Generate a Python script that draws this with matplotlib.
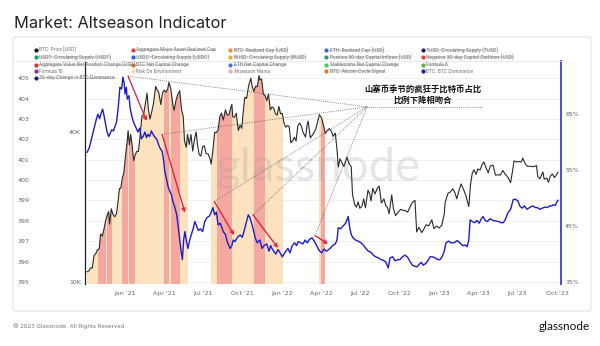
import matplotlib
matplotlib.use("Agg")
import matplotlib.pyplot as plt
import matplotlib.dates as mdates
from matplotlib.lines import Line2D
from matplotlib.patches import Polygon, FancyBboxPatch
import numpy as np
import pandas as pd

W, H = 600, 346

# ---- data ----
price_dates = [
    "2020-10-05", "2020-10-09", "2020-10-13", "2020-10-17", "2020-10-21", "2020-10-25", "2020-10-29",
    "2020-11-02", "2020-11-05", "2020-11-09", "2020-11-13", "2020-11-17", "2020-11-21", "2020-11-24",
    "2020-11-26", "2020-11-30", "2020-12-04", "2020-12-08", "2020-12-12", "2020-12-16", "2020-12-19",
    "2020-12-22", "2020-12-26", "2020-12-29", "2021-01-02", "2021-01-06", "2021-01-08", "2021-01-11",
    "2021-01-14", "2021-01-17", "2021-01-21", "2021-01-24", "2021-01-28", "2021-02-01", "2021-02-05",
    "2021-02-09", "2021-02-13", "2021-02-17", "2021-02-21", "2021-02-24", "2021-02-28", "2021-03-04",
    "2021-03-08", "2021-03-13", "2021-03-17", "2021-03-20", "2021-03-25", "2021-03-29", "2021-04-02",
    "2021-04-06", "2021-04-10", "2021-04-13", "2021-04-17", "2021-04-22", "2021-04-25", "2021-04-29",
    "2021-05-03", "2021-05-08", "2021-05-12", "2021-05-16", "2021-05-19", "2021-05-23", "2021-05-26",
    "2021-05-30", "2021-06-03", "2021-06-07", "2021-06-11", "2021-06-15", "2021-06-18", "2021-06-22",
    "2021-06-26", "2021-06-30", "2021-07-04", "2021-07-08", "2021-07-13", "2021-07-17", "2021-07-20",
    "2021-07-24", "2021-07-28", "2021-08-01", "2021-08-05", "2021-08-09", "2021-08-13", "2021-08-17",
    "2021-08-22", "2021-08-26", "2021-08-30", "2021-09-03", "2021-09-06", "2021-09-08", "2021-09-12",
    "2021-09-16", "2021-09-21", "2021-09-25", "2021-09-29", "2021-10-02", "2021-10-06", "2021-10-10",
    "2021-10-15", "2021-10-20", "2021-10-23", "2021-10-27", "2021-10-31", "2021-11-04", "2021-11-08",
    "2021-11-10", "2021-11-14", "2021-11-18", "2021-11-22", "2021-11-26", "2021-11-30", "2021-12-04",
    "2021-12-08", "2021-12-12", "2021-12-16", "2021-12-20", "2021-12-24", "2021-12-28", "2022-01-01",
    "2022-01-05", "2022-01-09", "2022-01-13", "2022-01-17", "2022-01-21", "2022-01-25", "2022-01-29",
    "2022-02-02", "2022-02-06", "2022-02-10", "2022-02-14", "2022-02-18", "2022-02-24", "2022-02-28",
    "2022-03-02", "2022-03-07", "2022-03-11", "2022-03-15", "2022-03-20", "2022-03-24", "2022-03-28",
    "2022-04-02", "2022-04-06", "2022-04-11", "2022-04-15", "2022-04-20", "2022-04-25", "2022-04-29",
    "2022-05-04", "2022-05-08", "2022-05-11", "2022-05-15", "2022-05-19", "2022-05-24", "2022-05-31",
    "2022-06-05", "2022-06-10", "2022-06-13", "2022-06-18", "2022-06-22", "2022-06-26", "2022-06-30",
    "2022-07-05", "2022-07-09", "2022-07-13", "2022-07-19", "2022-07-23", "2022-07-26", "2022-07-30",
    "2022-08-04", "2022-08-10", "2022-08-14", "2022-08-19", "2022-08-25", "2022-08-29", "2022-09-02",
    "2022-09-06", "2022-09-12", "2022-09-16", "2022-09-21", "2022-09-27", "2022-10-03", "2022-10-09",
    "2022-10-13", "2022-10-19", "2022-10-25", "2022-10-29", "2022-11-05", "2022-11-09", "2022-11-14",
    "2022-11-21", "2022-11-27", "2022-12-01", "2022-12-07", "2022-12-14", "2022-12-19", "2022-12-25",
    "2022-12-31", "2023-01-06", "2023-01-12", "2023-01-14", "2023-01-21", "2023-01-26", "2023-02-01",
    "2023-02-06", "2023-02-10", "2023-02-16", "2023-02-20", "2023-02-26", "2023-03-03", "2023-03-10",
    "2023-03-14", "2023-03-18", "2023-03-22", "2023-03-27", "2023-03-31", "2023-04-05", "2023-04-10",
    "2023-04-14", "2023-04-19", "2023-04-24", "2023-04-29", "2023-05-05", "2023-05-11", "2023-05-16",
    "2023-05-22", "2023-05-28", "2023-06-02", "2023-06-08", "2023-06-15", "2023-06-20", "2023-06-23",
    "2023-06-29", "2023-07-05", "2023-07-10", "2023-07-13", "2023-07-19", "2023-07-24", "2023-07-31",
    "2023-08-07", "2023-08-14", "2023-08-17", "2023-08-22", "2023-08-29", "2023-09-01", "2023-09-07",
    "2023-09-11", "2023-09-15", "2023-09-20", "2023-09-25", "2023-09-29", "2023-10-03",
]
price_k = [
    11.0, 11.1, 11.4, 11.4, 12.8, 13.0, 13.5,
    13.6, 15.6, 15.3, 16.3, 17.7, 18.7, 19.2,
    17.1, 19.7, 18.7, 18.3, 18.8, 21.3, 23.8,
    23.8, 26.4, 27.4, 32.2, 36.8, 40.6, 35.6,
    39.2, 36.0, 30.8, 32.3, 33.5, 33.5, 38.9,
    46.4, 47.1, 52.1, 57.5, 49.7, 45.2, 48.4,
    52.3, 61.2, 58.9, 58.1, 51.7, 57.7, 59.1,
    58.0, 59.8, 63.5, 60.0, 51.7, 49.0, 53.6,
    56.6, 58.8, 49.2, 46.4, 37.0, 34.8, 39.3,
    35.7, 39.2, 33.6, 37.3, 40.2, 35.8, 32.5,
    32.1, 35.0, 35.3, 32.9, 32.7, 31.4, 29.8,
    34.0, 40.0, 39.9, 40.9, 46.3, 47.8, 44.8,
    49.3, 46.9, 47.0, 50.0, 51.8, 46.1, 46.0,
    47.7, 40.7, 42.8, 41.5, 47.7, 55.4, 54.7,
    61.7, 66.0, 61.3, 58.4, 61.3, 61.0, 67.6,
    64.9, 65.5, 56.9, 56.3, 53.6, 57.0, 49.2,
    50.6, 50.1, 47.6, 46.9, 50.8, 47.5, 47.7,
    43.4, 41.9, 42.6, 42.2, 36.3, 36.9, 38.2,
    36.9, 42.4, 43.6, 42.5, 40.0, 38.3, 43.2,
    44.4, 38.0, 38.8, 39.7, 41.3, 44.0, 47.1,
    45.8, 43.2, 39.5, 40.6, 41.4, 40.4, 38.5,
    39.7, 34.1, 29.0, 31.3, 30.3, 29.1, 31.8,
    29.9, 29.1, 22.5, 20.5, 20.0, 21.0, 19.8,
    20.2, 21.6, 19.9, 23.4, 22.6, 21.2, 23.8,
    22.6, 23.9, 24.3, 20.8, 21.6, 20.3, 20.0,
    18.8, 22.4, 19.7, 18.5, 19.1, 19.6, 19.4,
    19.4, 19.1, 20.1, 20.8, 21.3, 15.9, 16.6,
    15.8, 16.5, 17.0, 16.8, 17.8, 16.4, 16.8,
    16.5, 16.9, 18.8, 20.9, 22.8, 23.0, 23.7,
    22.8, 21.6, 23.6, 24.8, 23.5, 22.3, 20.1,
    24.7, 27.4, 28.3, 27.1, 28.5, 28.2, 29.7,
    30.4, 28.8, 27.5, 29.3, 29.5, 26.9, 27.0,
    26.9, 28.1, 27.2, 26.5, 25.1, 28.3, 30.7,
    30.4, 30.5, 30.4, 31.5, 29.9, 29.2, 29.2,
    29.1, 29.4, 26.6, 26.0, 27.7, 25.9, 26.2,
    25.2, 26.6, 27.2, 26.3, 26.9, 27.6,
]

dom_dates = [
    "2020-10-05", "2020-10-10", "2020-10-16", "2020-10-22", "2020-10-26", "2020-10-30", "2020-11-03",
    "2020-11-07", "2020-11-10", "2020-11-13", "2020-11-17", "2020-11-20", "2020-11-24", "2020-11-27",
    "2020-12-01", "2020-12-05", "2020-12-08", "2020-12-12", "2020-12-16", "2020-12-20", "2020-12-24",
    "2020-12-27", "2020-12-30", "2021-01-01", "2021-01-04", "2021-01-06", "2021-01-10", "2021-01-13",
    "2021-01-17", "2021-01-21", "2021-01-25", "2021-01-31", "2021-02-04", "2021-02-08", "2021-02-12",
    "2021-02-16", "2021-02-20", "2021-02-23", "2021-02-27", "2021-03-03", "2021-03-07", "2021-03-12",
    "2021-03-16", "2021-03-20", "2021-03-24", "2021-03-28", "2021-04-01", "2021-04-03", "2021-04-07",
    "2021-04-11", "2021-04-15", "2021-04-19", "2021-04-22", "2021-04-26", "2021-05-01", "2021-05-04",
    "2021-05-08", "2021-05-11", "2021-05-14", "2021-05-17", "2021-05-20", "2021-05-24", "2021-05-27",
    "2021-05-31", "2021-06-04", "2021-06-08", "2021-06-12", "2021-06-16", "2021-06-20", "2021-06-25",
    "2021-06-30", "2021-07-05", "2021-07-10", "2021-07-16", "2021-07-20", "2021-07-24", "2021-07-28",
    "2021-08-01", "2021-08-05", "2021-08-10", "2021-08-17", "2021-08-22", "2021-08-27", "2021-09-02",
    "2021-09-06", "2021-09-09", "2021-09-13", "2021-09-19", "2021-09-25", "2021-09-30", "2021-10-04",
    "2021-10-09", "2021-10-14", "2021-10-18", "2021-10-23", "2021-10-27", "2021-10-30", "2021-11-04",
    "2021-11-10", "2021-11-15", "2021-11-20", "2021-11-26", "2021-12-01", "2021-12-05", "2021-12-08",
    "2021-12-12", "2021-12-17", "2021-12-22", "2021-12-27", "2022-01-01", "2022-01-05", "2022-01-09",
    "2022-01-14", "2022-01-19", "2022-01-24", "2022-01-30", "2022-02-03", "2022-02-07", "2022-02-13",
    "2022-02-18", "2022-02-23", "2022-02-28", "2022-03-05", "2022-03-11", "2022-03-16", "2022-03-22",
    "2022-03-27", "2022-04-02", "2022-04-08", "2022-04-13", "2022-04-17", "2022-04-22", "2022-04-29",
    "2022-05-04", "2022-05-08", "2022-05-11", "2022-05-16", "2022-05-22", "2022-05-28", "2022-06-03",
    "2022-06-07", "2022-06-10", "2022-06-14", "2022-06-20", "2022-06-26", "2022-07-03", "2022-07-08",
    "2022-07-14", "2022-07-20", "2022-07-26", "2022-07-31", "2022-08-06", "2022-08-12", "2022-08-18",
    "2022-08-23", "2022-08-29", "2022-09-04", "2022-09-08", "2022-09-14", "2022-09-20", "2022-09-26",
    "2022-10-01", "2022-10-07", "2022-10-13", "2022-10-19", "2022-10-25", "2022-10-30", "2022-11-05",
    "2022-11-10", "2022-11-15", "2022-11-20", "2022-11-24", "2022-11-30", "2022-12-05", "2022-12-10",
    "2022-12-16", "2022-12-22", "2022-12-28", "2023-01-02", "2023-01-07", "2023-01-12", "2023-01-16",
    "2023-01-22", "2023-01-28", "2023-02-03", "2023-02-11", "2023-02-17", "2023-02-24", "2023-03-02",
    "2023-03-06", "2023-03-10", "2023-03-13", "2023-03-18", "2023-03-24", "2023-03-29", "2023-04-03",
    "2023-04-08", "2023-04-12", "2023-04-17", "2023-04-22", "2023-04-28", "2023-05-05", "2023-05-12",
    "2023-05-18", "2023-05-24", "2023-05-29", "2023-06-03", "2023-06-09", "2023-06-15", "2023-06-21",
    "2023-06-26", "2023-07-02", "2023-07-07", "2023-07-12", "2023-07-17", "2023-07-23", "2023-07-29",
    "2023-08-05", "2023-08-12", "2023-08-16", "2023-08-22", "2023-08-28", "2023-09-03", "2023-09-08",
    "2023-09-14", "2023-09-19", "2023-09-22", "2023-09-27", "2023-10-01", "2023-10-03",
]
dom_pct = [
    58.2, 59.0, 60.9, 62.8, 64.0, 65.0, 64.2,
    65.3, 65.9, 64.8, 63.2, 61.9, 61.0, 61.5,
    62.2, 62.0, 62.7, 63.5, 66.0, 69.8, 69.5,
    71.6, 70.5, 68.6, 69.8, 67.7, 68.3, 66.0,
    64.5, 63.5, 62.8, 61.8, 62.5, 60.6, 61.0,
    61.8, 60.8, 61.4, 61.0, 62.0, 61.4, 60.8,
    60.5, 59.5, 58.8, 58.4, 56.5, 54.8, 53.5,
    52.0, 51.2, 50.5, 49.4, 48.5, 47.0, 45.0,
    42.5, 40.5, 39.0, 42.5, 44.0, 42.0, 41.0,
    42.5, 43.5, 44.5, 45.8, 45.0, 44.2, 44.5,
    44.0, 45.8, 46.5, 46.8, 47.5, 48.3, 47.0,
    47.5, 45.2, 45.5, 44.0, 43.5, 42.0, 41.0,
    41.5, 42.5, 42.2, 43.0, 43.4, 43.0, 44.0,
    45.5, 47.0, 46.5, 45.2, 44.0, 42.9, 42.0,
    42.5, 41.0, 41.5, 41.8, 40.5, 41.5, 41.0,
    40.5, 40.0, 40.8, 40.2, 39.5, 40.0, 40.5,
    41.0, 40.2, 41.5, 42.0, 41.5, 42.2, 42.0,
    41.8, 42.5, 42.0, 42.6, 42.9, 42.3, 41.5,
    40.7, 40.2, 40.9, 40.5, 40.7, 41.0, 41.6,
    41.8, 42.5, 44.7, 44.5, 45.0, 45.5, 46.7,
    44.5, 43.5, 42.9, 42.5, 42.3, 42.0, 41.6,
    41.0, 40.5, 40.3, 39.8, 39.5, 39.3, 39.0,
    38.9, 38.6, 37.5, 39.3, 39.5, 38.8, 39.0,
    39.0, 39.5, 39.8, 39.4, 38.6, 38.0, 37.8,
    37.7, 38.2, 38.5, 38.0, 38.3, 38.8, 39.5,
    39.5, 39.3, 39.0, 39.0, 39.5, 40.5, 42.0,
    42.3, 42.0, 42.0, 42.4, 42.0, 41.5, 41.6,
    41.3, 42.5, 46.1, 45.8, 45.6, 46.0, 45.5,
    46.3, 46.7, 46.0, 45.8, 46.3, 46.0, 45.9,
    45.8, 45.6, 45.6, 46.2, 47.4, 48.0, 49.7,
    49.8, 49.5, 48.5, 48.2, 48.6, 48.0, 48.3,
    48.6, 48.3, 48.3, 48.0, 48.2, 48.4, 48.3,
    48.6, 48.6, 48.8, 48.7, 49.4, 49.6,
]

# shaded regimes (start, end)
risk_on_start = ["2020-10-05", "2021-07-20", "2022-03-27"]
risk_on_end = ["2021-05-28", "2022-01-02", "2022-04-10"]
mania_start = ["2020-10-30", "2020-11-20", "2020-12-24", "2021-01-11", "2021-04-02",
               "2021-04-18", "2021-08-03", "2021-10-28", "2022-04-01"]
mania_end = ["2020-11-17", "2020-12-02", "2021-01-07", "2021-01-24", "2021-04-13",
             "2021-05-09", "2021-09-06", "2021-11-22", "2022-04-10"]

# red arrows on dominance (start date, start %, end date, end %)
arrow_from_date = ["2021-01-08", "2021-03-28", "2021-07-27", "2021-10-25", "2022-03-18"]
arrow_from_pct = [71.8, 61.4, 49.4, 47.0, 43.3]
arrow_to_date = ["2021-02-20", "2021-05-20", "2021-09-11", "2021-12-22", "2022-04-17"]
arrow_to_pct = [63.8, 47.4, 43.4, 41.1, 41.8]
focus_date, focus_pct = "2022-07-17", 66.3
underline_end = "2023-04-10"

note_text = "山寨币季节的疯狂于比特币占比\n比例下降相吻合"

legend_labels = [
    "BTC: Price [USD]", "Aggregate Major Asset Realized Cap", "BTC: Realized Cap [USD]",
    "ETH: Realized Cap [USD]", "TUSD: Circulating Supply [TUSD]",
    "USDT: Circulating Supply [USDT]", "USDC: Circulating Supply [USDC]",
    "BUSD: Circulating Supply [BUSD]", "Positive 30-day Capital Inflows [USD]",
    "Negative 30-day Capital Outflows [USD]",
    "Aggregate Value Net Position Change [USD]", "BTC Net Capital Change",
    "ETH Net Capital Change", "Stablecoins Net Capital Change", "Formula 8",
    "Formula 10", "Risk On Environment", "Altseason Mania", "BTC: Altcoin Cycle Signal",
    "BTC: BTC Dominance",
    "30-day Change in BTC Dominance",
]
legend_colors = [
    "#111111", "#e03c3c", "#f08a24", "#3c64d8", "#1a1a5e",
    "#1a9a6c", "#2a5cc8", "#e8b020", "#2aa060", "#e04040",
    "#d03030", "#e07a20", "#5070d8", "#50c070", "#60b030",
    "#a020a0", "#fbd9a8", "#f4a6c0", "#d87a20", "#1a1aa0",
    "#1a1a80",
]
legend_struck = [
    False, True, True, True, True,
    True, True, True, True, True,
    True, True, True, True, True,
    False, False, False, True, False,
    True,
]

x_ticks = ["2021-01-01", "2021-04-01", "2021-07-01", "2021-10-01", "2022-01-01", "2022-04-01",
           "2022-07-01", "2022-10-01", "2023-01-01", "2023-04-01", "2023-07-01", "2023-10-01"]
x_labels = ["Jan '21", "Apr '21", "Jul '21", "Oct '21", "Jan '22", "Apr '22",
            "Jul '22", "Oct '22", "Jan '23", "Apr '23", "Jul '23", "Oct '23"]

PEACH = "#fde2bf"
SALMON = "#f5a8a0"
BLUE = "#1c1cc8"
GREY = "#666666"

price_d = pd.to_datetime(price_dates)
price = np.array(price_k) * 1000
dom_d = pd.to_datetime(dom_dates)

fig = plt.figure(figsize=(W / 100, H / 100), dpi=100)
fig.patch.set_facecolor("white")

# panel frame
fig.add_artist(FancyBboxPatch((13 / W, 1 - 311 / H), 578 / W, 274 / H,
                              boxstyle="round,pad=0,rounding_size=0.005",
                              transform=fig.transFigure, fc="none", ec="#e4e4e4", lw=0.8))
fig.add_artist(Line2D([13 / W, 561 / W], [1 - 61 / H, 1 - 61 / H], color="#e6e6e6", lw=0.6,
                      transform=fig.transFigure))

fig.text(14 / W, 1 - 28 / H, "Market: Altseason Indicator", fontsize=11.8, family="Inter",
         color="#222222", va="baseline")
fig.text(13 / W, 1 - 326 / H, "© 2023 Glassnode. All Rights Reserved.", fontsize=4.3,
         color="#777777", va="center", family="Inter")
fig.text(590 / W, 1 - 326 / H, "glassnode", fontsize=8.5, color="#111111", va="center",
         ha="right", family="Lato")

ax = fig.add_axes([85 / W, 1 - 284 / H, 476 / W, 223 / H])
ax.set_facecolor("none")
ax.set_ylim(394.9, 405.84)
ax.set_yticks(range(395, 406))
ax.set_yticklabels([str(v) for v in range(395, 406)])
ax.grid(axis="y", color="#eeeeee", lw=0.6)
ax.tick_params(axis="y", length=0, pad=40, labelsize=4.5, labelcolor=GREY)
for s in ax.spines.values():
    s.set_visible(False)

ax_p = ax.twinx()
ax_p.yaxis.tick_left()
ax_p.set_yscale("log")
ax_p.set_ylim(9820, 77400)
ax_p.set_yticks([10000, 40000])
ax_p.set_yticklabels(["10K", "40K"])
ax_p.yaxis.set_minor_locator(matplotlib.ticker.NullLocator())
ax_p.tick_params(axis="y", length=0, pad=3, labelsize=4.5, labelcolor=GREY)
for s in ax_p.spines.values():
    s.set_visible(False)
ax_p.spines["left"].set_visible(True)
ax_p.spines["left"].set_color("#222222")
ax_p.spines["left"].set_linewidth(0.9)

ax_d = ax.twinx()
ax_d.set_ylim(34.64, 74.5)
ax_d.set_yticks([35, 45, 55, 65])
ax_d.set_yticklabels(["35%", "45%", "55%", "65%"])
ax_d.tick_params(axis="y", length=0, pad=3, labelsize=4.5, labelcolor=GREY)
for s in ax_d.spines.values():
    s.set_visible(False)
ax_d.spines["right"].set_visible(True)
ax_d.spines["right"].set_color("#4a4ae0")
ax_d.spines["right"].set_linewidth(1.4)

ax.set_xlim(pd.Timestamp("2020-09-30"), pd.Timestamp("2023-10-10"))
ax.set_xticks(pd.to_datetime(x_ticks))
ax.set_xticklabels(x_labels)
ax.tick_params(axis="x", length=0, pad=5, labelsize=4.5, labelcolor=GREY)

# area under the price curve used to clip the regime bands
xn = mdates.date2num(price_d)
verts = [(xn[0], 9820)] + list(zip(xn, price)) + [(xn[-1], 9820)]
under = Polygon(verts, closed=True, transform=ax_p.transData, fc="none", ec="none")
for a, b in zip(risk_on_start, risk_on_end):
    sp = ax_p.axvspan(pd.Timestamp(a), pd.Timestamp(b), color=PEACH, lw=0, zorder=1)
    sp.set_clip_path(under)
for a, b in zip(mania_start, mania_end):
    sp = ax_p.axvspan(pd.Timestamp(a), pd.Timestamp(b), color=SALMON, lw=0, zorder=1.1)
    sp.set_clip_path(under)

ax_p.text(318 / W, 1 - 168 / H, "glassnode", transform=fig.transFigure, fontsize=34,
          family="Lato", color="#9a9a9a", alpha=0.24, ha="center", va="center", zorder=1.5)

ax_p.plot(price_d, price, color="#2a2a2a", lw=0.8, zorder=2)
ax_d.plot(dom_d, dom_pct, color=BLUE, lw=1.0, zorder=3)

# dotted guides and red arrows
fd = pd.Timestamp(focus_date)
for d0, v0 in zip(arrow_from_date, arrow_from_pct):
    ax_d.plot([pd.Timestamp(d0), fd], [v0, focus_pct], ls=(0, (1, 1.5)), color="#555555",
              lw=0.55, zorder=4)
ax_d.plot([fd, pd.Timestamp(underline_end)], [focus_pct, focus_pct], ls=(0, (1, 1.5)),
          color="#555555", lw=0.55, zorder=4)
for d0, v0, d1, v1 in zip(arrow_from_date, arrow_from_pct, arrow_to_date, arrow_to_pct):
    ax_d.annotate("", xy=(mdates.date2num(pd.Timestamp(d1)), v1),
                  xytext=(mdates.date2num(pd.Timestamp(d0)), v0),
                  arrowprops=dict(arrowstyle="->", color="#e3173e", lw=0.9,
                                  shrinkA=0, shrinkB=0, mutation_scale=6), zorder=5)

ax_d.text(423 / W, 1 - 105 / H, note_text, transform=fig.transFigure, ha="center",
          va="bottom", fontsize=6, family=["Noto Sans CJK SC", "DejaVu Sans"],
          weight="bold", color="#111111", linespacing=1.25, zorder=6)

# legend drawn by hand (five columns, some entries struck through)
leg_x = [36, 133, 230, 326, 423]
leg_y = [50, 57.3, 64.6, 71.3, 78]
struck = []
for i, (lab, col, st) in enumerate(zip(legend_labels, legend_colors, legend_struck)):
    r, c = divmod(i, 5)
    x, y = leg_x[c], leg_y[r]
    fig.add_artist(Line2D([x / W], [1 - y / H], marker="o", ms=2.0, color=col, lw=0,
                          transform=fig.transFigure))
    t = fig.text((x + 3.5) / W, 1 - y / H, lab, fontsize=3.3, color=GREY, va="center",
                 family="Inter")
    if st:
        struck.append(t)

fig.canvas.draw()
rend = fig.canvas.get_renderer()
inv = fig.transFigure.inverted()
for t in struck:
    bb = t.get_window_extent(rend)
    (x0, y0), (x1, y1) = inv.transform([(bb.x0, bb.y0), (bb.x1, bb.y1)])
    ym = (y0 + y1) / 2
    fig.add_artist(Line2D([x0, x1], [ym, ym], lw=0.3, color=GREY, transform=fig.transFigure))

fig.savefig("out.png", dpi=100)
